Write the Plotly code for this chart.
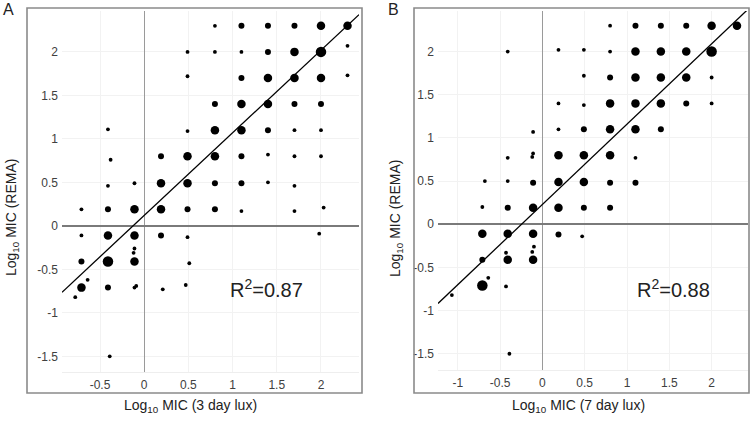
import plotly.graph_objects as go

# ---------------- data ----------------
# Panel A: Log10 MIC (3 day lux) vs Log10 MIC (REMA); W = relative cluster weight
A_X = [0.8, 1.1, 1.4, 1.7, 2.0, 2.3,
       0.49, 0.8, 1.1, 1.4, 1.7, 2.0, 2.3,
       0.49, 1.1, 1.4, 1.7, 2.0, 2.3,
       0.8, 1.1, 1.4, 1.7, 2.0,
       -0.41, 0.49, 0.8, 1.1, 1.4, 1.7, 2.0,
       -0.38, 0.19, 0.49, 0.8, 1.1, 1.4, 1.7, 2.0,
       -0.41, -0.11, 0.19, 0.49, 0.8, 1.1, 1.4, 1.7,
       -0.71, -0.41, -0.11, 0.19, 0.49, 0.8, 1.1, 1.7, 2.03,
       -0.71, -0.41, -0.11, 0.19, 0.49, 1.98, -0.11, -0.12,
       -0.71, -0.41, -0.11, 0.51,
       -0.71, -0.64, -0.41, -0.11, -0.09, 0.21, 0.47,
       -0.78, -0.39]
A_Y = [2.3, 2.3, 2.3, 2.3, 2.3, 2.3,
       2.0, 2.0, 2.0, 2.0, 2.0, 2.0, 2.07,
       1.72, 1.7, 1.7, 1.7, 1.7, 1.73,
       1.4, 1.4, 1.4, 1.4, 1.4,
       1.11, 1.09, 1.1, 1.1, 1.1, 1.1, 1.1,
       0.76, 0.8, 0.8, 0.8, 0.8, 0.82, 0.8, 0.8,
       0.46, 0.49, 0.49, 0.49, 0.49, 0.49, 0.5, 0.46,
       0.19, 0.19, 0.19, 0.19, 0.19, 0.19, 0.17, 0.17, 0.21,
       -0.11, -0.11, -0.11, -0.11, -0.13, -0.09, -0.26, -0.31,
       -0.41, -0.41, -0.41, -0.43,
       -0.71, -0.62, -0.71, -0.71, -0.69, -0.73, -0.68,
       -0.82, -1.5]
A_W = [1, 2, 2, 2, 3, 3,
       1, 1, 1, 2, 3, 4, 1,
       1, 2, 3, 3, 3, 1,
       2, 3, 3, 2, 2,
       1, 1, 3, 3, 2, 1, 1,
       1, 2, 3, 3, 2, 1, 1, 1,
       1, 1, 3, 3, 2, 2, 1, 1,
       1, 2, 3, 3, 2, 2, 1, 1, 1,
       1, 3, 3, 2, 1, 1, 1, 1,
       2, 4, 3, 1,
       3, 1, 2, 1, 1, 1, 1,
       1, 1]

# Panel B: Log10 MIC (7 day lux) vs Log10 MIC (REMA)
B_X = [0.8, 1.1, 1.4, 1.7, 2.0, 2.3,
       -0.41, 0.19, 0.49, 0.8, 1.1, 1.4, 1.7, 2.0,
       0.49, 0.8, 1.1, 1.4, 1.7, 2.0,
       0.19, 0.49, 0.8, 1.1, 1.4, 1.7, 2.0,
       -0.11, 0.19, 0.49, 0.8, 1.1, 1.4,
       -0.41, -0.11, -0.12, 0.19, 0.49, 0.8, 1.1,
       -0.68, -0.41, -0.11, 0.19, 0.49, 0.8, 1.1,
       -0.71, -0.41, -0.11, 0.19, 0.49, 0.8,
       -0.71, -0.41, -0.11, 0.19, 0.47, -0.1, -0.12, -0.43,
       -0.71, -0.41, -0.11,
       -0.71, -0.64, -0.43,
       -1.07, -0.39]
B_Y = [2.3, 2.3, 2.3, 2.3, 2.3, 2.3,
       2.0, 2.02, 2.02, 2.0, 2.0, 2.0, 2.0, 2.0,
       1.72, 1.7, 1.7, 1.7, 1.7, 1.7,
       1.4, 1.38, 1.4, 1.4, 1.4, 1.4, 1.4,
       1.07, 1.1, 1.1, 1.1, 1.1, 1.1,
       0.77, 0.82, 0.78, 0.8, 0.8, 0.8, 0.77,
       0.5, 0.5, 0.48, 0.49, 0.49, 0.48, 0.48,
       0.2, 0.19, 0.19, 0.19, 0.19, 0.19,
       -0.11, -0.11, -0.11, -0.12, -0.14, -0.26, -0.32, -0.33,
       -0.41, -0.41, -0.41,
       -0.71, -0.62, -0.72,
       -0.82, -1.5]
B_W = [1, 2, 2, 2, 3, 3,
       1, 1, 1, 1, 3, 3, 3, 4,
       1, 2, 3, 3, 3, 1,
       1, 1, 3, 3, 3, 2, 1,
       1, 1, 2, 3, 3, 2,
       1, 1, 1, 3, 3, 3, 1,
       1, 1, 2, 3, 3, 2, 2,
       1, 2, 3, 3, 2, 2,
       3, 3, 3, 2, 1, 1, 1, 1,
       2, 3, 3,
       4, 1, 1,
       1, 1]

# regression fits (slope, intercept) and R^2 labels
A_FIT = (0.95, 0.12)
B_FIT = (0.93, 0.23)
A_R2 = "0.87"
B_R2 = "0.88"

TICKS = [-1.5, -1, -0.5, 0, 0.5, 1, 1.5, 2]
TICKTEXT = ["-1.5", "-1", "-0.5", "0", "0.5", "1", "1.5", "2"]

A_XTITLE = "Log<sub>10</sub> MIC (3 day lux)"
B_XTITLE = "Log<sub>10</sub> MIC (7 day lux)"
YTITLE = "Log<sub>10</sub> MIC (REMA)"

# ---------------- figure ----------------
SIZE_MAP = {1: 3.8, 2: 6, 3: 8.5, 4: 10.5}
W, H = 750, 423

fig = go.Figure()

A_XR = [-0.93, 2.43]
A_YR = [-1.68, 2.47]
B_XR = [-1.234, 2.43]
B_YR = [-1.688, 2.47]

for xs, ys, ws, xa, ya in [(A_X, A_Y, A_W, "x", "y"), (B_X, B_Y, B_W, "x2", "y2")]:
    fig.add_trace(go.Scatter(x=xs, y=ys, mode="markers", xaxis=xa, yaxis=ya,
                             marker=dict(color="black", opacity=1,
                                         size=[SIZE_MAP[w] for w in ws],
                                         symbol="circle", line=dict(width=0)),
                             showlegend=False, hoverinfo="skip"))

# regression lines
fig.add_trace(go.Scatter(x=A_XR, y=[A_FIT[0] * v + A_FIT[1] for v in A_XR], mode="lines",
                         xaxis="x", yaxis="y", line=dict(color="black", width=1.3),
                         showlegend=False, hoverinfo="skip"))
fig.add_trace(go.Scatter(x=B_XR, y=[B_FIT[0] * v + B_FIT[1] for v in B_XR], mode="lines",
                         xaxis="x2", yaxis="y2", line=dict(color="black", width=1.3),
                         showlegend=False, hoverinfo="skip"))

tickfont = dict(family="Liberation Sans Narrow, Arial Narrow, Liberation Sans, Arial, sans-serif",
                size=12, color="#404040")
titlefont = dict(family="Liberation Sans, Arial, sans-serif", size=14, color="#222222")

def xax(domain, rng, anchor):
    return dict(domain=domain, range=rng, tickvals=TICKS, ticktext=TICKTEXT,
                tickfont=tickfont, showgrid=True, gridcolor="#f2f2f2", gridwidth=1,
                zeroline=True, zerolinecolor="#9a9a9a", zerolinewidth=1.2,
                showline=True, linecolor="#eeeeee", linewidth=1, mirror=False,
                ticks="", ticklabelstandoff=2, fixedrange=True, anchor=anchor)

def yax(domain, rng, anchor):
    return dict(domain=domain, range=rng, tickvals=TICKS, ticktext=TICKTEXT,
                tickfont=tickfont, showgrid=True, gridcolor="#f2f2f2", gridwidth=1,
                zeroline=True, zerolinecolor="#7a7a7a", zerolinewidth=2,
                showline=False, ticks="", ticklabelstandoff=3, anchor=anchor,
                fixedrange=True)

A_XD = [62 / W, 359 / W]
A_YD = [(H - 372) / H, (H - 11) / H]
B_XD = [438 / W, 748 / W]
B_YD = [(H - 370) / H, (H - 11) / H]

fig.update_layout(
    width=W, height=H, margin=dict(l=0, r=0, t=0, b=0, autoexpand=False),
    paper_bgcolor="white", plot_bgcolor="white",
    xaxis=xax(A_XD, A_XR, "y"),
    yaxis=yax(A_YD, A_YR, "x"),
    xaxis2=xax(B_XD, B_XR, "y2"),
    yaxis2=yax(B_YD, B_YR, "x2"),
)

# panel frames
for x0, x1, y0, y1 in [(27, 362, 8, 393), (414, 749, 8, 393)]:
    fig.add_shape(type="rect", xref="paper", yref="paper",
                  x0=x0 / W, x1=x1 / W, y0=(H - y1) / H, y1=(H - y0) / H,
                  line=dict(color="#8a8a8a", width=1.6), fillcolor="rgba(0,0,0,0)")

# panel letters
for txt, px in [("A", 8), ("B", 393)]:
    fig.add_annotation(text=txt, xref="paper", yref="paper", x=px / W, y=(H - 9) / H,
                       showarrow=False, xanchor="center", yanchor="middle",
                       font=dict(family="Liberation Sans, Arial, sans-serif", size=16, color="#222"))

# axis titles
for txt, px, py, ang in [(A_XTITLE, 190, 406, 0), (B_XTITLE, 578, 406, 0),
                         (YTITLE, 12, 218, -90), (YTITLE, 396, 219, -90)]:
    fig.add_annotation(text=txt, xref="paper", yref="paper", x=px / W, y=(H - py) / H,
                       showarrow=False, xanchor="center", yanchor="middle", textangle=ang,
                       font=titlefont)

# R^2 labels
fig.add_annotation(text="R<sup>2</sup>=" + A_R2, xref="x", yref="y", x=0.95, y=-0.72,
                   showarrow=False, xanchor="left", yanchor="middle",
                   font=dict(family="Liberation Sans, Arial, sans-serif", size=20, color="#222"))
fig.add_annotation(text="R<sup>2</sup>=" + B_R2, xref="x2", yref="y2", x=1.1, y=-0.74,
                   showarrow=False, xanchor="left", yanchor="middle",
                   font=dict(family="Liberation Sans, Arial, sans-serif", size=20, color="#222"))

fig.write_html("out.html", config={"displayModeBar": False},
               post_script="document.body.style.margin='0';document.body.style.padding='0';"
                           "document.body.style.overflow='hidden';")
